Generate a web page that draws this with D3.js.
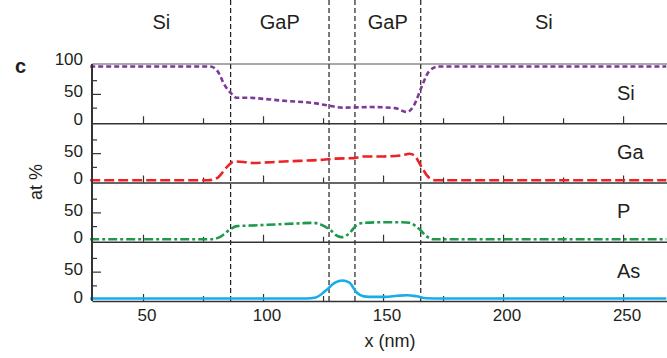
<!DOCTYPE html>
<html>
<head>
<meta charset="utf-8">
<script src="https://cdnjs.cloudflare.com/ajax/libs/d3/7.8.5/d3.min.js"></script>
<style>
body { margin: 0; background: #fff; }
svg text { font-family: "Liberation Sans", Arial, Helvetica, sans-serif; fill: #231f20; }
</style>
</head>
<body>
<script>
// depth profile, position along the line scan (nm) and at %
var si_x = [28, 78, 81, 84, 86.5, 89, 94, 100, 110, 120, 127, 133, 145, 155, 160, 163, 166, 169, 173, 268];
var si_y = [100, 100, 92, 66, 52, 43, 43, 41, 37, 34, 29, 25, 26, 24, 17, 30, 62, 90, 100, 100];

var ga_x = [28, 77, 81, 85, 88, 92, 96, 105, 115, 125, 130, 138, 142, 150, 158, 161, 163, 166, 169, 172, 268];
var ga_y = [0.5, 0.5, 5, 25, 35, 34, 32, 34, 36, 38, 40, 41, 44, 44, 46, 49, 46, 25, 6, 0.5, 0.5];

var p_x = [28, 78, 82, 86, 89, 95, 105, 115, 121, 124, 128, 131, 133, 136, 139, 142, 150, 158, 161, 165, 168, 171, 268];
var p_y = [1, 1, 5, 18, 25, 26, 28, 30, 31, 28, 18, 7, 5, 12, 27, 31, 32, 32, 31, 20, 7, 1, 1];

var as_x = [28, 118, 122, 126, 130, 133, 136, 139, 142, 146, 151, 156, 160, 164, 168, 175, 268];
var as_y = [1, 1, 3, 15, 30, 34, 30, 12, 5, 4, 4, 6, 7, 5, 1.5, 1, 1];

var elements = ["Si", "Ga", "P", "As"];
var series_x = [si_x, ga_x, p_x, as_x];
var series_y = [si_y, ga_y, p_y, as_y];

// interfaces (nm) and layer names above the plot
var boundaries = [86.5, 127.5, 138.3, 165.7];
var layers = ["Si", "GaP", "GaP", "Si"];
var layer_from = [28.75, 86.5, 138.3, 165.7];
var layer_to = [86.5, 127.5, 165.7, 268.3];

var x_major = [50, 100, 150, 200, 250];
var x_minor = [75, 125, 175, 225];

// styles
var colors = ["#7b3a98", "#ec2227", "#1d9a4a", "#16ade8"];
var dashes = ["5,3", "10,4", "9,3,3,3", null];

var width = 667, height = 358;
var plotLeft = 92, plotRight = 667, plotTop = 64, panelH = 59.25;
var plotBottom = plotTop + 4 * panelH;

var svg = d3.select("body").append("svg")
    .attr("width", width)
    .attr("height", height);

var x = d3.scaleLinear().domain([28.75, 268.3]).range([plotLeft, plotRight]);

// dashed interface lines
svg.append("g").selectAll("line")
  .data(boundaries)
  .enter().append("line")
    .attr("x1", function(d) { return x(d); })
    .attr("x2", function(d) { return x(d); })
    .attr("y1", 0)
    .attr("y2", plotBottom)
    .attr("stroke", "#231f20")
    .attr("stroke-width", 1.2)
    .attr("stroke-dasharray", "5,3");

// layer labels centred on each layer
svg.append("g").selectAll("text")
  .data(layers)
  .enter().append("text")
    .attr("x", function(d, i) { return x((layer_from[i] + layer_to[i]) / 2); })
    .attr("y", 29)
    .attr("text-anchor", "middle")
    .style("font-size", "20px")
    .text(function(d) { return d; });

// top frame line
svg.append("line")
    .attr("x1", plotLeft).attr("x2", plotRight)
    .attr("y1", plotTop).attr("y2", plotTop)
    .attr("stroke", "#555")
    .attr("stroke-width", 1.2);

elements.forEach(function(el, i) {
  var y0 = plotTop + i * panelH, y1 = y0 + panelH;
  var y = d3.scaleLinear().domain([-3.5, 104.5]).range([y1, y0]);
  var g = svg.append("g").attr("class", "panel");

  // bottom axis, ticks pointing up
  var gx = g.append("g").attr("transform", "translate(0," + y1 + ")");
  gx.call(d3.axisBottom(x).tickValues(x_major).tickSizeInner(-7).tickSizeOuter(0)
      .tickFormat(i == 3 ? d3.format("d") : ""));
  gx.append("g").call(d3.axisBottom(x).tickValues(x_minor).tickSizeInner(-5).tickSizeOuter(0).tickFormat(""))
    .select(".domain").remove();
  gx.selectAll(".domain").attr("stroke", "#333").attr("stroke-width", 1.6);
  gx.selectAll("line").attr("stroke", "#333").attr("stroke-width", 1.2);
  gx.selectAll("text")
    .attr("y", 20).attr("dy", 0).attr("dx", 3.5)
    .attr("fill", null)
    .style("font-size", "17px");

  // left ticks pointing right
  var gy = g.append("g").attr("transform", "translate(" + plotLeft + ",0)");
  gy.call(d3.axisLeft(y).tickValues([50]).tickSizeInner(-9).tickSizeOuter(0).tickFormat(""));
  gy.append("g").call(d3.axisLeft(y).tickValues([25, 75]).tickSizeInner(-5).tickSizeOuter(0).tickFormat(""));
  gy.selectAll(".domain").remove();
  gy.selectAll("line").attr("stroke", "#333").attr("stroke-width", 1.2);

  // y labels
  var labs = i == 0 ? [0, 50, 100] : [0, 50];
  g.append("g").selectAll("text")
    .data(labs)
    .enter().append("text")
      .attr("x", 83)
      .attr("y", function(d) { return d == 100 ? y0 + 0.5 : y(d) + 3.5; })
      .attr("text-anchor", "end")
      .style("font-size", "17px")
      .text(function(d) { return d; });

  // element name
  g.append("text")
    .attr("x", 617)
    .attr("y", (y0 + y1) / 2 + 6.2)
    .style("font-size", "20px")
    .text(el);

  // profile
  var pts = series_x[i].map(function(d, j) { return [d, series_y[i][j]]; });
  var line = d3.line()
      .x(function(d) { return x(d[0]); })
      .y(function(d) { return y(d[1]); })
      .curve(d3.curveMonotoneX);
  g.append("path")
    .datum(pts)
    .attr("d", line)
    .attr("fill", "none")
    .attr("stroke", colors[i])
    .attr("stroke-width", 2.6)
    .attr("stroke-dasharray", dashes[i]);
});

// left axis line
svg.append("line")
    .attr("x1", plotLeft).attr("x2", plotLeft)
    .attr("y1", plotTop).attr("y2", plotBottom)
    .attr("stroke", "#333")
    .attr("stroke-width", 2);

// titles
svg.append("text")
    .attr("x", 390)
    .attr("y", 347)
    .attr("text-anchor", "middle")
    .style("font-size", "18px")
    .text("x (nm)");

svg.append("text")
    .attr("transform", "translate(42,182) rotate(-90)")
    .attr("text-anchor", "middle")
    .style("font-size", "18px")
    .text("at %");

svg.append("text")
    .attr("x", 15)
    .attr("y", 73)
    .style("font-size", "20px")
    .style("font-weight", "bold")
    .text("c");
</script>
</body>
</html>
